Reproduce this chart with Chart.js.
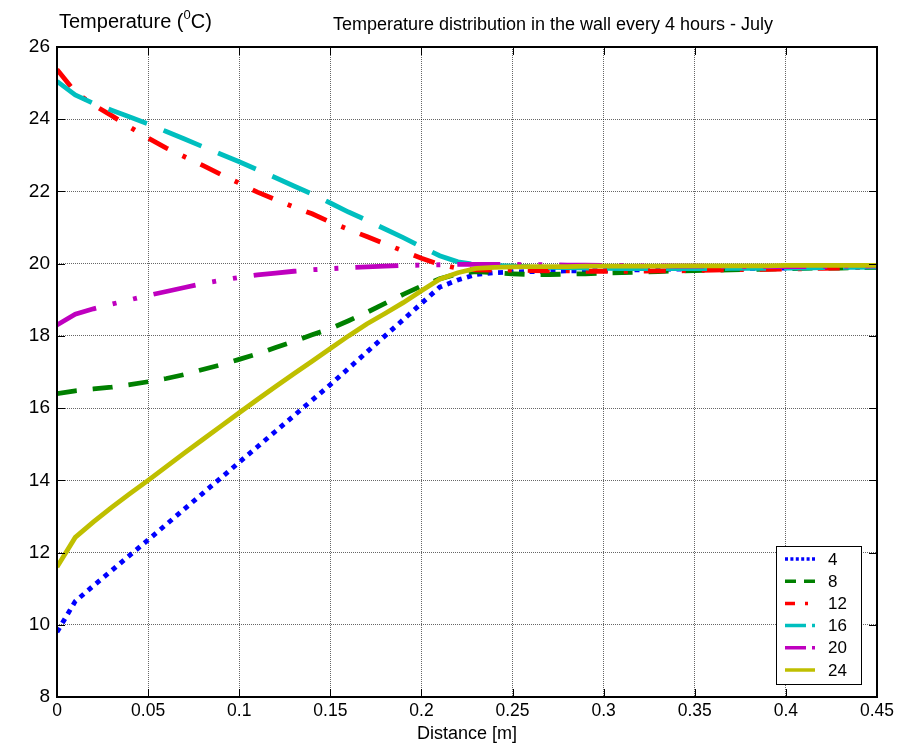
<!DOCTYPE html>
<html>
<head>
<meta charset="utf-8">
<title>Temperature distribution in the wall every 4 hours - July</title>
<script src="https://cdn.jsdelivr.net/npm/chart.js@4.4.0/dist/chart.umd.min.js"></script>
<style>
  html, body { margin: 0; padding: 0; background: #fff; }
  canvas { display: block; }
</style>
</head>
<body>
<canvas id="wallChart" width="899" height="747"></canvas>
<script>
// distance through the wall [m]
var distance = [0, 0.01, 0.02, 0.03, 0.04, 0.05, 0.06, 0.07, 0.08, 0.09,
    0.10, 0.11, 0.12, 0.13, 0.14, 0.15, 0.16, 0.17, 0.18, 0.19,
    0.20, 0.21, 0.22, 0.23, 0.24, 0.25, 0.26, 0.27, 0.28, 0.29,
    0.30, 0.31, 0.32, 0.33, 0.34, 0.35, 0.36, 0.37, 0.38, 0.39,
    0.40, 0.41, 0.42, 0.43, 0.44, 0.45];

// hour of the day for every curve
var hours = ['4', '8', '12', '16', '20', '24'];

// temperature (C), one value per distance
var temp4 = [9.8, 10.65, 11.08, 11.5, 11.93, 12.35, 12.78, 13.21, 13.64, 14.07,
    14.5, 14.93, 15.36, 15.79, 16.22, 16.65, 17.1, 17.55, 18.0, 18.45,
    18.9, 19.35, 19.55, 19.7, 19.75, 19.77, 19.78, 19.79, 19.8, 19.8,
    19.81, 19.82, 19.83, 19.84, 19.85, 19.86, 19.86, 19.87, 19.87, 19.88,
    19.88, 19.89, 19.9, 19.9, 19.91, 19.92];
var temp8 = [16.4, 16.48, 16.53, 16.58, 16.65, 16.73, 16.82, 16.93, 17.07, 17.2,
    17.35, 17.5, 17.68, 17.85, 18.03, 18.2, 18.42, 18.65, 18.9, 19.15,
    19.38, 19.58, 19.72, 19.78, 19.75, 19.72, 19.7, 19.7, 19.71, 19.72,
    19.74, 19.75, 19.77, 19.78, 19.8, 19.81, 19.82, 19.83, 19.84, 19.85,
    19.86, 19.87, 19.88, 19.88, 19.89, 19.9];
var temp12 = [25.38, 24.75, 24.4, 24.1, 23.78, 23.48, 23.2, 22.96, 22.72, 22.47,
    22.23, 21.98, 21.77, 21.57, 21.38, 21.15, 20.95, 20.75, 20.55, 20.35,
    20.15, 19.98, 19.87, 19.83, 19.82, 19.82, 19.81, 19.8, 19.8, 19.79,
    19.79, 19.79, 19.79, 19.8, 19.8, 19.81, 19.82, 19.83, 19.84, 19.84,
    19.85, 19.86, 19.87, 19.88, 19.89, 19.9];
var temp16 = [25.05, 24.67, 24.44, 24.25, 24.06, 23.87, 23.66, 23.45, 23.24, 23.03,
    22.82, 22.6, 22.38, 22.15, 21.93, 21.68, 21.43, 21.2, 20.96, 20.72,
    20.47, 20.22, 20.05, 19.97, 19.95, 19.93, 19.92, 19.9, 19.89, 19.88,
    19.87, 19.86, 19.86, 19.86, 19.86, 19.86, 19.86, 19.87, 19.87, 19.87,
    19.88, 19.88, 19.89, 19.9, 19.9, 19.91];
var temp20 = [18.3, 18.6, 18.75, 18.88, 19.0, 19.12, 19.23, 19.34, 19.45, 19.54,
    19.62, 19.69, 19.74, 19.79, 19.83, 19.86, 19.89, 19.91, 19.93, 19.95,
    19.96, 19.97, 19.98, 19.98, 19.98, 19.98, 19.97, 19.97, 19.96, 19.96,
    19.95, 19.95, 19.94, 19.94, 19.93, 19.93, 19.93, 19.92, 19.92, 19.92,
    19.92, 19.92, 19.92, 19.93, 19.93, 19.94];
var temp24 = [11.6, 12.42, 12.85, 13.25, 13.63, 14.0, 14.38, 14.76, 15.13, 15.5,
    15.87, 16.24, 16.6, 16.95, 17.3, 17.65, 18.0, 18.33, 18.62, 18.92,
    19.25, 19.57, 19.75, 19.87, 19.9, 19.91, 19.92, 19.92, 19.92, 19.93,
    19.93, 19.93, 19.93, 19.93, 19.94, 19.94, 19.94, 19.94, 19.94, 19.94,
    19.95, 19.95, 19.95, 19.95, 19.95, 19.95];

var xTicks = [0, 0.05, 0.1, 0.15, 0.2, 0.25, 0.3, 0.35, 0.4, 0.45];
var yTicks = [8, 10, 12, 14, 16, 18, 20, 22, 24, 26];

var FONT = '"Liberation Sans", Arial, Helvetica, sans-serif';
Chart.defaults.font.family = FONT;
Chart.defaults.color = '#000';

function pairs(values) {
    return distance.map(function(d, i) { return {x: d, y: values[i]}; });
}

var series = [temp4, temp8, temp12, temp16, temp20, temp24];
var colors = ['#0000ff', '#008000', '#ff0000', '#00bfbf', '#bf00bf', '#bfbf00'];
var dashes = [[5, 5.5], [20, 16], [22, 16, 4, 16], [41, 18], [43, 17, 4, 17, 4, 17], []];
var legendDashes = [[3, 2.4], [11, 8], [10, 10, 3, 7, 3, 30], [21, 6, 3, 30], [21, 6, 3, 30], []];

var datasets = hours.map(function(h, i) {
    return {
        label: h,
        data: pairs(series[i]),
        borderColor: colors[i],
        backgroundColor: colors[i],
        borderWidth: 4.8,
        borderDash: dashes[i],
        legendDash: legendDashes[i],
        pointRadius: 0,
        tension: 0,
        fill: false,
        order: hours.length - i   // later hours drawn on top
    };
});

// box, inner ticks, titles and the boxed legend like the original figure
var figureDecor = {
    id: 'figureDecor',
    afterDraw: function(chart) {
        var ctx = chart.ctx;
        var a = chart.chartArea;
        var xs = chart.scales.x, ys = chart.scales.y;
        ctx.save();

        ctx.strokeStyle = '#000';
        ctx.lineWidth = 1;
        ctx.setLineDash([]);
        ctx.beginPath();
        xs.ticks.forEach(function(t) {
            var px = Math.round(xs.getPixelForValue(t.value)) + 0.5;
            ctx.moveTo(px, a.bottom); ctx.lineTo(px, a.bottom - 8);
            ctx.moveTo(px, a.top); ctx.lineTo(px, a.top + 8);
        });
        ys.ticks.forEach(function(t) {
            var py = Math.round(ys.getPixelForValue(t.value)) + 0.5;
            ctx.moveTo(a.left, py); ctx.lineTo(a.left + 8, py);
            ctx.moveTo(a.right, py); ctx.lineTo(a.right - 8, py);
        });
        ctx.stroke();

        ctx.lineWidth = 2;
        ctx.strokeRect(a.left, a.top, a.right - a.left, a.bottom - a.top);

        // y axis label, with the raised 0 of the original
        ctx.fillStyle = '#000';
        ctx.textBaseline = 'alphabetic';
        ctx.textAlign = 'left';
        ctx.font = '20px ' + FONT;
        var tx = 59, ty = 28;
        var part1 = 'Temperature (';
        ctx.fillText(part1, tx, ty);
        tx += ctx.measureText(part1).width;
        ctx.font = '13px ' + FONT;
        ctx.fillText('0', tx, ty - 9);
        tx += ctx.measureText('0').width;
        ctx.font = '20px ' + FONT;
        ctx.fillText('C)', tx, ty);

        // figure title
        ctx.font = '18px ' + FONT;
        ctx.textAlign = 'center';
        ctx.fillText('Temperature distribution in the wall every 4 hours - July', 553, 30);

        // legend box
        var bw = 85, bh = 138;
        var bx = a.right - 16 - bw, by = a.bottom - 13 - bh;
        ctx.fillStyle = '#fff';
        ctx.fillRect(bx, by, bw, bh);
        ctx.lineWidth = 1;
        ctx.strokeStyle = '#000';
        ctx.strokeRect(bx + 0.5, by + 0.5, bw, bh);
        ctx.font = '17px ' + FONT;
        ctx.textAlign = 'left';
        ctx.textBaseline = 'middle';
        chart.data.datasets.forEach(function(ds, i) {
            var ry = by + 13 + i * 22.2;
            ctx.strokeStyle = ds.borderColor;
            ctx.lineWidth = 3.5;
            ctx.setLineDash(ds.legendDash);
            ctx.beginPath();
            ctx.moveTo(bx + 9, ry);
            ctx.lineTo(bx + 39, ry);
            ctx.stroke();
            ctx.setLineDash([]);
            ctx.fillStyle = '#000';
            ctx.fillText(ds.label, bx + 52, ry + 1);
        });

        ctx.restore();
    }
};

new Chart(document.getElementById('wallChart').getContext('2d'), {
    type: 'line',
    data: { datasets: datasets },
    options: {
        responsive: false,
        animation: false,
        devicePixelRatio: 1,
        layout: { padding: { top: 47, right: 22, left: 0, bottom: 0 } },
        plugins: {
            legend: { display: false },
            tooltip: { enabled: false },
            title: { display: false }
        },
        scales: {
            x: {
                type: 'linear',
                min: 0,
                max: 0.45,
                afterBuildTicks: function(scale) {
                    scale.ticks = xTicks.map(function(v) { return {value: v}; });
                },
                afterFit: function(scale) { scale.height = 50; },
                ticks: {
                    font: { size: 17.5 },
                    padding: 4,
                    maxRotation: 0,
                    autoSkip: false,
                    callback: function(v) { return String(v); }
                },
                grid: { color: 'rgba(0,0,0,0.6)', lineWidth: 1, drawTicks: false },
                border: { display: false, dash: [1, 1] },
                title: {
                    display: true,
                    text: 'Distance [m]',
                    font: { size: 18 },
                    padding: { top: 0, bottom: 2 }
                }
            },
            y: {
                type: 'linear',
                min: 8,
                max: 26,
                afterBuildTicks: function(scale) {
                    scale.ticks = yTicks.map(function(v) { return {value: v}; });
                },
                afterFit: function(scale) { scale.width = 57; },
                ticks: {
                    font: { size: 19 },
                    padding: 7,
                    autoSkip: false,
                    callback: function(v) { return String(v); }
                },
                grid: { color: 'rgba(0,0,0,0.6)', lineWidth: 1, drawTicks: false },
                border: { display: false, dash: [1, 1] }
            }
        }
    },
    plugins: [figureDecor]
});
</script>
</body>
</html>
